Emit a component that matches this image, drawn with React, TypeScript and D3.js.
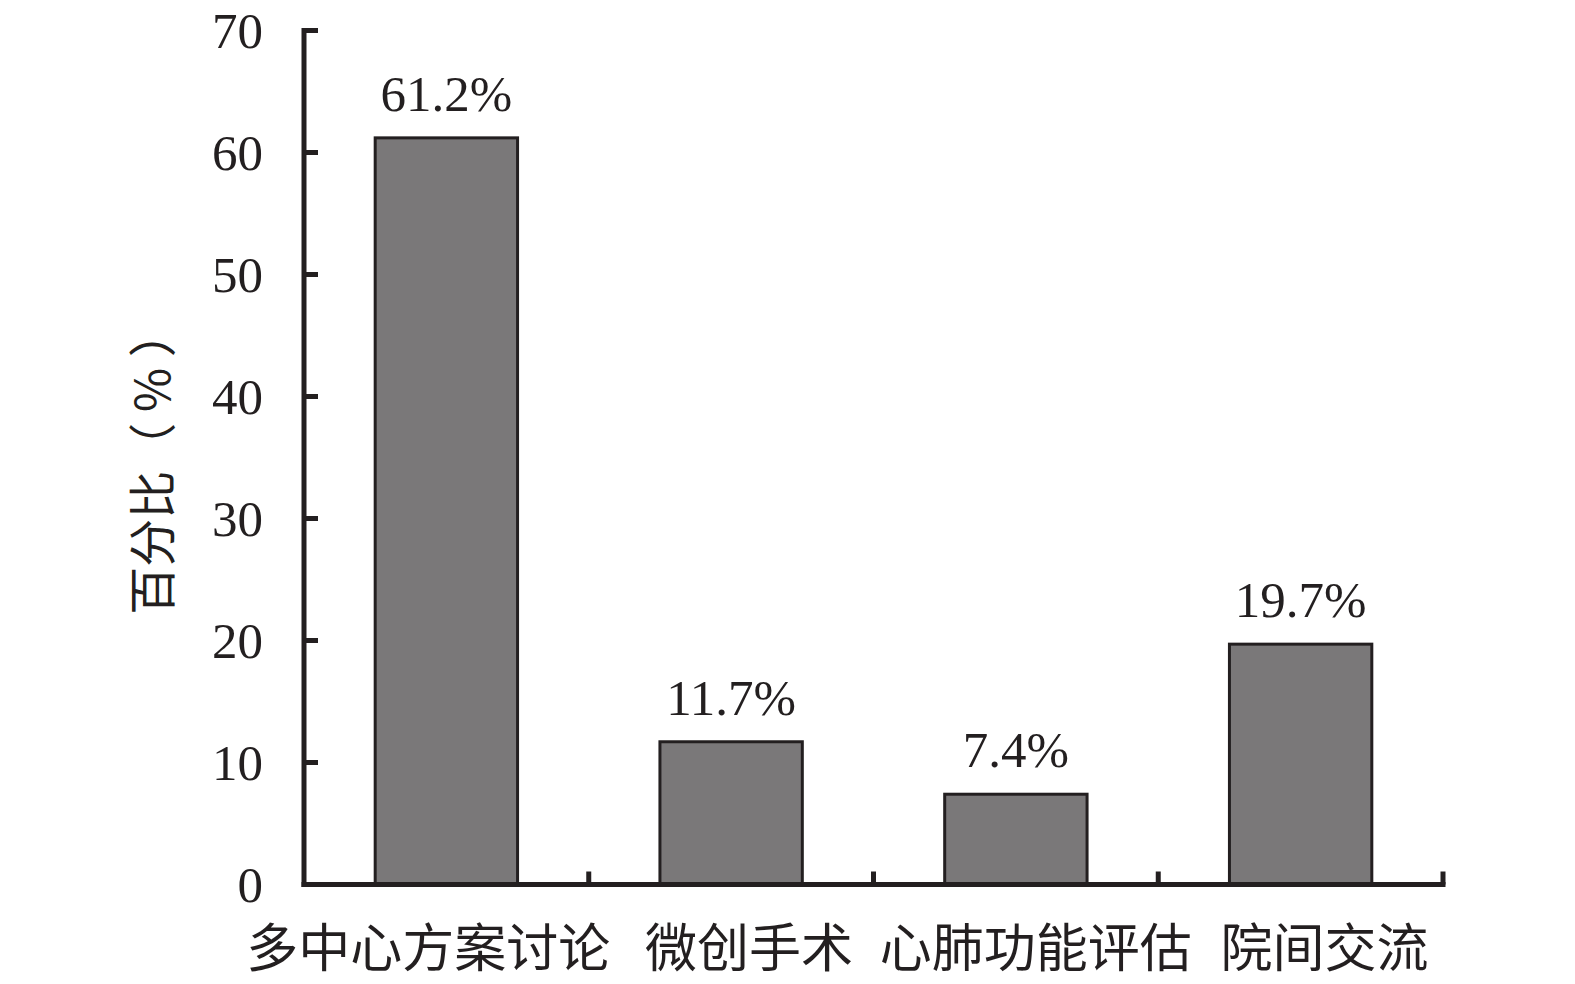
import React from "react";
import * as d3 from "d3";

const categories = ["多中心方案讨论", "微创手术", "心肺功能评估", "院间交流"];
const values = [61.2, 11.7, 7.4, 19.7];
const yTicks = [0, 10, 20, 30, 40, 50, 60, 70];
const yTitle = "百分比（ % ）";

const W = 1575;
const H = 984;
const ink = "#231f20";
const serif = "'Liberation Serif', 'DejaVu Serif', serif";
const cjk = "'Noto Sans CJK SC', sans-serif";
// horizontal nudges of the category labels (layout only)
const labelShift = [-18, 18, 20, 24];

export default function App() {
  const left = 304;
  const right = 1443;
  const x = d3.scaleBand<string>().domain(categories).range([left, right]).paddingInner(0.5).paddingOuter(0.25);
  const band = d3.scaleBand<string>().domain(categories).range([left, right]);
  const y = d3.scaleLinear().domain([0, 70]).range([884.5, 30.5]);
  const boundaries = categories.map((c) => (band(c) as number) + band.bandwidth());

  return (
    <svg width={W} height={H} style={{ position: "absolute", left: 0, top: 0, background: "#fff" }}>
      {categories.map((c, i) => (
        <rect
          key={c}
          x={x(c)}
          y={y(values[i])}
          width={x.bandwidth()}
          height={y(0) - y(values[i])}
          fill="#7a7879"
          stroke={ink}
          strokeWidth={3}
        />
      ))}
      {categories.map((c, i) => (
        <text
          key={c + "v"}
          x={(x(c) as number) + x.bandwidth() / 2}
          y={y(values[i]) - 27}
          textAnchor="middle"
          fontFamily={serif}
          fontSize={51}
          fill={ink}
        >
          {values[i].toFixed(1) + "%"}
        </text>
      ))}
      <line x1={left} x2={left} y1={y(70) - 2.5} y2={y(0) + 2.5} stroke={ink} strokeWidth={5} />
      {yTicks.map((t) => (
        <g key={t}>
          <line x1={left} x2={left + 14} y1={y(t)} y2={y(t)} stroke={ink} strokeWidth={5} />
          <text x={263} y={y(t) + 17} textAnchor="end" fontFamily={serif} fontSize={51} fill={ink}>
            {t}
          </text>
        </g>
      ))}
      <line x1={left - 2.5} x2={right + 2.5} y1={y(0)} y2={y(0)} stroke={ink} strokeWidth={5} />
      {boundaries.map((b, i) => (
        <line key={i} x1={b} x2={b} y1={y(0)} y2={y(0) - 13} stroke={ink} strokeWidth={5} />
      ))}
      {categories.map((c, i) => (
        <text
          key={c + "l"}
          x={(band(c) as number) + band.bandwidth() / 2 + labelShift[i]}
          y={967}
          textAnchor="middle"
          fontFamily={cjk}
          fontSize={52}
          fill={ink}
        >
          {c}
        </text>
      ))}
      <text
        transform={`translate(170, 462) rotate(-90)`}
        textAnchor="middle"
        fontFamily={cjk}
        fontSize={48}
        fill={ink}
      >
        {yTitle}
      </text>
    </svg>
  );
}
